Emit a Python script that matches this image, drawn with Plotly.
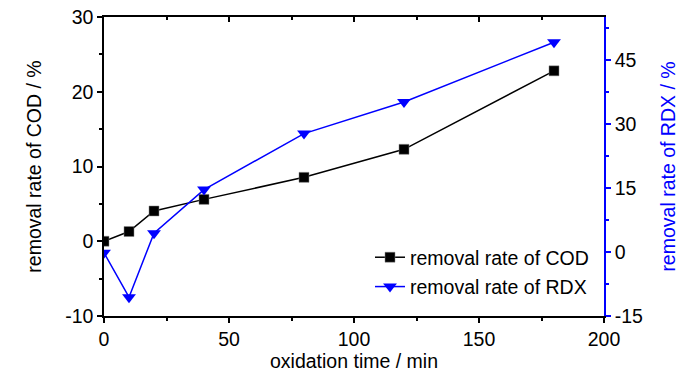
import plotly.graph_objects as go

time_min = [0, 10, 20, 40, 80, 120, 180]
cod_removal = [0, 1.3, 4.05, 5.6, 8.55, 12.3, 22.8]
rdx_removal = [-0.2, -10.6, 4.4, 14.6, 27.7, 35.1, 49.1]

x_ticks = [0, 50, 100, 150, 200]
y1_ticks = [-10, 0, 10, 20, 30]
y1_labels = ["-10", "0", "10", "20", "30"]
y2_ticks = [-15, 0, 15, 30, 45]
y2_labels = ["-15", "0", "15", "30", "45"]

FONT = "Liberation Sans, Arial, sans-serif"
FS = 19.5
BLUE = "#0000ff"

fig = go.Figure()
fig.add_trace(go.Scatter(
    x=time_min, y=cod_removal, mode="lines+markers", name="removal rate of COD",
    legendgroup="a",
    line=dict(color="black", width=1.5),
    marker=dict(symbol="square", size=10, color="black", line=dict(color="#888", width=0.5)),
    xaxis="x", yaxis="y"))
fig.add_trace(go.Scatter(
    x=time_min, y=rdx_removal, mode="lines+markers", name="removal rate of RDX",
    legendgroup="b",
    line=dict(color=BLUE, width=1.5),
    marker=dict(symbol="triangle-down", size=12, color=BLUE),
    xaxis="x", yaxis="y2"))
fig.add_trace(go.Scatter(x=[0], y=[0], xaxis="x2", yaxis="y", mode="markers",
                         marker=dict(opacity=0), showlegend=False, hoverinfo="skip"))

tickfont = dict(family=FONT, size=FS, color="black")
fig.update_layout(
    width=700, height=374,
    margin=dict(l=104, r=96, t=17, b=58),
    plot_bgcolor="white", paper_bgcolor="white",
    font=dict(family=FONT, size=FS, color="black"),
    showlegend=True,
    legend=dict(x=0.532, y=0.147, xanchor="left", yanchor="middle",
                bgcolor="rgba(0,0,0,0)", font=dict(family=FONT, size=FS, color="black"),
                tracegroupgap=1, itemsizing="trace"),
    xaxis=dict(range=[0, 200], tickvals=x_ticks, ticks="outside", ticklen=5, automargin=False,
               tickwidth=1.5, tickcolor="black", showline=True, linecolor="black", linewidth=1.5,
               showgrid=False, zeroline=False, tickfont=tickfont,
               minor=dict(tickvals=[25, 75, 125, 175], ticks="outside", ticklen=3, tickcolor="black", tickwidth=1.5),
               title=dict(text="oxidation time / min", font=dict(family=FONT, size=FS), standoff=0)),
    xaxis2=dict(range=[0, 200], overlaying="x", side="top", tickvals=x_ticks, automargin=False,
                ticks="inside", ticklen=5, tickwidth=1.5, tickcolor="black", showline=True,
                linecolor="black", linewidth=1.5, showticklabels=False, showgrid=False, zeroline=False,
                minor=dict(tickvals=[25, 75, 125, 175], ticks="inside", ticklen=3, tickcolor="black", tickwidth=1.5)),
    yaxis=dict(range=[-10, 30], tickvals=y1_ticks, ticktext=y1_labels, ticks="outside", ticklen=5,
               automargin=False,
               tickwidth=1.5, tickcolor="black", showline=True, linecolor="black", linewidth=1.5,
               showgrid=False, zeroline=False, tickfont=tickfont,
               minor=dict(tickvals=[-5, 5, 15, 25], ticks="outside", ticklen=3, tickcolor="black", tickwidth=1.5),
               title=dict(text="removal rate of COD / %", font=dict(family=FONT, size=FS), standoff=18)),
    yaxis2=dict(range=[-15, 55], overlaying="y", side="right", tickvals=y2_ticks, ticktext=y2_labels,
                automargin=False,
                ticks="outside", ticklen=5, tickwidth=1.5, tickcolor=BLUE, showline=True,
                linecolor=BLUE, linewidth=1.5, showgrid=False, zeroline=False, tickfont=tickfont,
                minor=dict(tickvals=[-7.5, 7.5, 22.5, 37.5, 52.5], ticks="outside", ticklen=3,
                           tickcolor=BLUE, tickwidth=1.5),
                title=dict(text="removal rate of RDX / %", font=dict(family=FONT, size=FS, color=BLUE), standoff=19)),
)

fig.write_html("out.html", config={"displayModeBar": False},
               post_script="document.body.style.margin='0';document.body.style.overflow='hidden';")
